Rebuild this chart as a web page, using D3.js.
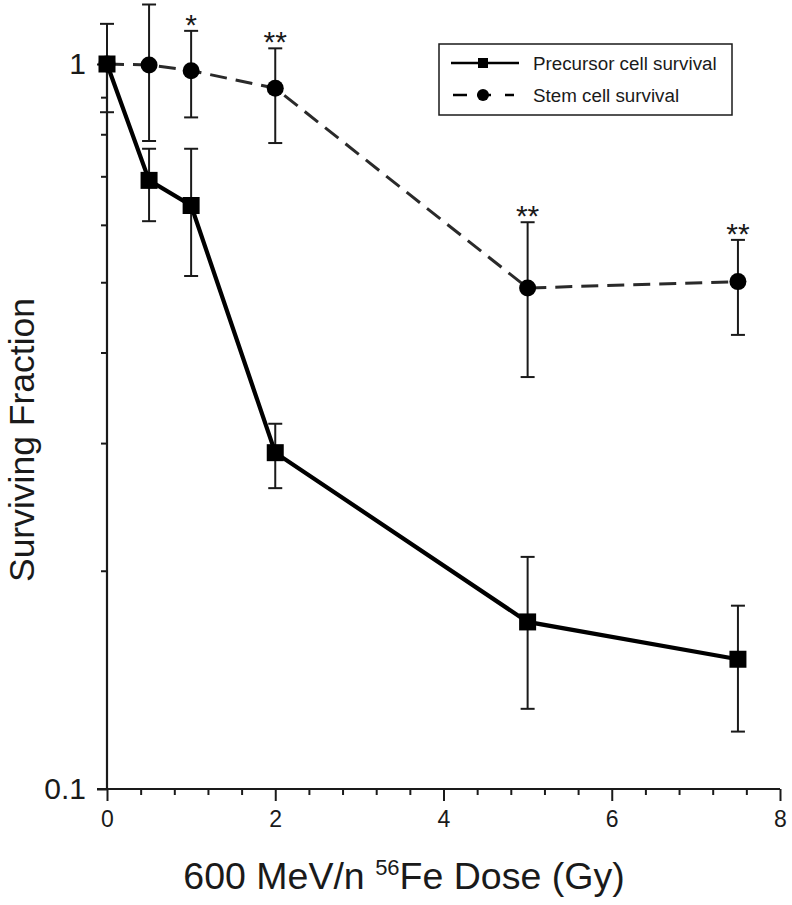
<!DOCTYPE html>
<html>
<head>
<meta charset="utf-8">
<script src="https://cdn.jsdelivr.net/npm/d3@7"></script>
<style>
  html, body { margin: 0; padding: 0; background: #fff; }
  svg { display: block; font-family: "Liberation Sans", Arial, sans-serif; }
</style>
</head>
<body>
<svg id="chart" width="792" height="905"></svg>
<script>
// ---- data ----
const doses = [0, 0.5, 1, 2, 5, 7.5];
const precursorMean = [1.0, 0.691, 0.638, 0.291, 0.170, 0.151];
const precursorLow  = [0.858, 0.607, 0.510, 0.260, 0.129, 0.120];
const precursorHigh = [1.136, 0.764, 0.764, 0.319, 0.209, 0.179];
const stemMean = [1.0, 0.997, 0.979, 0.926, 0.491, 0.501];
const stemLow  = [null, 0.783, 0.844, 0.778, 0.370, 0.423];
const stemHigh = [null, 1.208, 1.111, 1.051, 0.605, 0.572];
const stemSig  = ["", "", "*", "**", "**", "**"];
const xTickValues = [0, 2, 4, 6, 8];
const xMinorTicks = [0.4, 0.8, 1.2, 1.6, 2.4, 2.8, 3.2, 3.6, 4.4, 4.8, 5.2, 5.6, 6.4, 6.8, 7.2, 7.6];
const yTickValues = [0.1, 1];
const yTickLabels = ["0.1", "1"];
const yMinorTicks = [0.2, 0.3, 0.4, 0.5, 0.6, 0.7, 0.8, 0.9];
const seriesNames = ["Precursor cell survival", "Stem cell survival"];

// ---- layout ----
const svg = d3.select("#chart");
const x = d3.scaleLinear().domain([0, 8]).range([107, 780]);
const y = d3.scaleLog().domain([0.1, 1]).range([789, 64]);
const ink = "#1a1a1a";

// axes
const xAxisMinor = d3.axisBottom(x).tickValues(xMinorTicks).tickSize(6).tickFormat("");
const xAxis = d3.axisBottom(x).tickValues(xTickValues).tickSize(12).tickPadding(10).tickFormat(d3.format("d"));
const yAxisMinor = d3.axisLeft(y).tickValues(yMinorTicks).tickSize(6).tickFormat("");
const yAxis = d3.axisLeft(y).tickValues(yTickValues).tickSize(10).tickPadding(11)
  .tickFormat((d, i) => yTickLabels[i]);

function styleAxis(g) {
  g.selectAll("path.domain").attr("stroke", ink).attr("stroke-width", 2.2);
  g.selectAll(".tick line").attr("stroke", ink).attr("stroke-width", 2);
}

const gxm = svg.append("g").attr("transform", `translate(0,${y(0.1)})`).call(xAxisMinor);
gxm.select("path.domain").remove();
styleAxis(gxm);
const gx = svg.append("g").attr("transform", `translate(0,${y(0.1)})`).call(xAxis);
styleAxis(gx);
gx.selectAll(".tick text").attr("font-size", 23).attr("fill", ink)
  .attr("font-family", "Liberation Sans, Arial, sans-serif");
gx.select("path.domain").attr("d", `M${x(0) - 10},0H${x(8)}`);

const gym = svg.append("g").attr("transform", `translate(${x(0)},0)`).call(yAxisMinor);
gym.select("path.domain").remove();
styleAxis(gym);
const gy = svg.append("g").attr("transform", `translate(${x(0)},0)`).call(yAxis);
styleAxis(gy);
gy.select("path.domain").attr("d", `M0,${y(0.1)}V${y(1)}`);
gy.selectAll(".tick text").attr("font-size", 30).attr("fill", ink)
  .attr("font-family", "Liberation Sans, Arial, sans-serif");

// axis titles
svg.append("text")
  .attr("transform", `translate(34,${(298 + 582) / 2}) rotate(-90)`)
  .attr("text-anchor", "middle")
  .attr("font-size", 35.5).attr("fill", ink)
  .text("Surviving Fraction");

const xt = svg.append("text")
  .attr("x", 404).attr("y", 889)
  .attr("text-anchor", "middle")
  .attr("font-size", 37.5).attr("fill", ink);
xt.append("tspan").text("600 MeV/n ");
xt.append("tspan").attr("font-size", 22).attr("dy", -14).text("56");
xt.append("tspan").attr("dy", 14).text("Fe Dose (Gy)");

// data records
const prec = doses.map((d, i) => ({ x: d, m: precursorMean[i], lo: precursorLow[i], hi: precursorHigh[i] }));
const stem = doses.map((d, i) => ({ x: d, m: stemMean[i], lo: stemLow[i], hi: stemHigh[i], sig: stemSig[i] }));

function errorBars(data) {
  const g = svg.append("g").attr("stroke", ink).attr("stroke-width", 2).attr("fill", "none");
  data.filter(d => d.lo != null).forEach(d => {
    g.append("line").attr("x1", x(d.x)).attr("x2", x(d.x)).attr("y1", y(d.hi)).attr("y2", y(d.lo));
    g.append("line").attr("x1", x(d.x) - 7).attr("x2", x(d.x) + 7).attr("y1", y(d.hi)).attr("y2", y(d.hi));
    g.append("line").attr("x1", x(d.x) - 7).attr("x2", x(d.x) + 7).attr("y1", y(d.lo)).attr("y2", y(d.lo));
  });
}
errorBars(stem);
errorBars(prec);

const line = d3.line().x(d => x(d.x)).y(d => y(d.m));

// stem (dashed, circles)
svg.append("path").datum(stem).attr("d", line)
  .attr("fill", "none").attr("stroke", "#2a2a2a").attr("stroke-width", 3)
  .attr("stroke-dasharray", "17,9");
svg.append("g").selectAll("circle").data(stem).join("circle")
  .attr("cx", d => x(d.x)).attr("cy", d => y(d.m)).attr("r", 8.5).attr("fill", "#000");

// precursor (solid, squares)
svg.append("path").datum(prec).attr("d", line)
  .attr("fill", "none").attr("stroke", "#000").attr("stroke-width", 4.2);
svg.append("g").selectAll("rect").data(prec).join("rect")
  .attr("x", d => x(d.x) - 8.5).attr("y", d => y(d.m) - 8.5)
  .attr("width", 17).attr("height", 17).attr("fill", "#000");

// significance stars
svg.append("g").selectAll("text").data(stem.filter(d => d.sig)).join("text")
  .attr("x", d => x(d.x)).attr("y", d => y(d.hi) + 4)
  .attr("text-anchor", "middle").attr("font-size", 30).attr("fill", ink)
  .text(d => d.sig);

// legend
const lg = svg.append("g");
lg.append("rect").attr("x", 439).attr("y", 44).attr("width", 293).attr("height", 71)
  .attr("fill", "#fff").attr("stroke", ink).attr("stroke-width", 1.5);
const rows = [63, 95];
lg.append("line").attr("x1", 451).attr("x2", 519).attr("y1", rows[0]).attr("y2", rows[0])
  .attr("stroke", "#000").attr("stroke-width", 2.5);
lg.append("rect").attr("x", 483 - 5).attr("y", rows[0] - 5).attr("width", 10).attr("height", 10).attr("fill", "#000");
lg.append("line").attr("x1", 453).attr("x2", 514).attr("y1", rows[1]).attr("y2", rows[1])
  .attr("stroke", "#000").attr("stroke-width", 2.5).attr("stroke-dasharray", "14,10,14");
lg.append("circle").attr("cx", 483).attr("cy", rows[1]).attr("r", 6).attr("fill", "#000");
lg.selectAll("text.lt").data(seriesNames).join("text").attr("class", "lt")
  .attr("x", 533).attr("y", (d, i) => rows[i] + 6.5)
  .attr("font-size", 18.8).attr("fill", ink)
  .text(d => d);
</script>
</body>
</html>
